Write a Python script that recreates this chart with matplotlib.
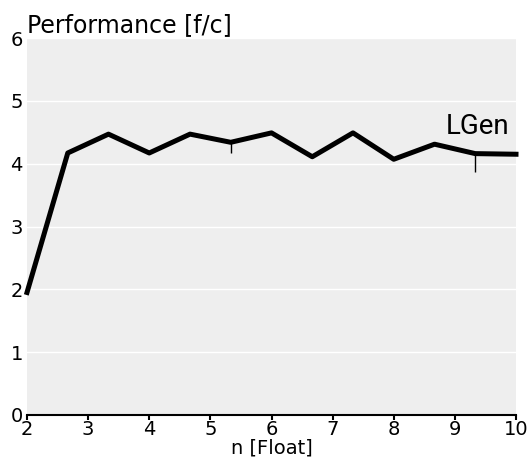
import matplotlib
matplotlib.use("Agg")
import matplotlib.pyplot as plt

# Data
n_values = [2.0, 2.667, 3.333, 4.0, 4.667, 5.333, 6.0, 6.667, 7.333, 8.0, 8.667, 9.333, 10.0]
perf = [1.95, 4.17, 4.47, 4.17, 4.47, 4.34, 4.49, 4.11, 4.49, 4.07, 4.31, 4.16, 4.15]
err_low = [0.0, 0.0, 0.0, 0.0, 0.0, 0.17, 0.0, 0.0, 0.0, 0.0, 0.0, 0.29, 0.0]
err_high = [0.0, 0.0, 0.03, 0.0, 0.0, 0.0, 0.0, 0.0, 0.0, 0.0, 0.0, 0.0, 0.0]
x_ticks = [2, 3, 4, 5, 6, 7, 8, 9, 10]
y_ticks = [0, 1, 2, 3, 4, 5, 6]
series_label = "LGen"
title = "Performance [f/c]"
x_label = "n [Float]"

fig = plt.figure(figsize=(5.32, 4.66), dpi=100)
ax = fig.add_axes([27/532, 1 - 415/466, (516-27)/532, (415-38)/466])
ax.set_facecolor("#eeeeee")

ax.errorbar(n_values, perf, yerr=[err_low, err_high], color="black", lw=3.6,
            elinewidth=1.0, capsize=0, clip_on=False, zorder=3)

ax.set_xlim(2, 10)
ax.set_ylim(0, 6)
ax.set_xticks(x_ticks)
ax.set_yticks(y_ticks)
ax.yaxis.grid(True, color="white", lw=1.0)
ax.set_axisbelow(True)
for s in ["top", "right", "left"]:
    ax.spines[s].set_visible(False)
ax.spines["bottom"].set_color("black")
ax.spines["bottom"].set_linewidth(1.5)
ax.tick_params(axis="x", length=3.5, width=1.5, labelsize=14, pad=0)
ax.tick_params(axis="y", length=0, labelsize=14, pad=3)

ax.set_xlabel(x_label, fontsize=14, labelpad=0)
ax.annotate(title, xy=(0, 1), xycoords="axes fraction", xytext=(0, 4.5),
            textcoords="offset points", ha="left", va="baseline", fontsize=17)

ax.text(8.85, 4.47, series_label, fontsize=20, ha="left", va="baseline",
        family=["Roboto", "DejaVu Sans"])

fig.savefig("out.png", dpi=100)
